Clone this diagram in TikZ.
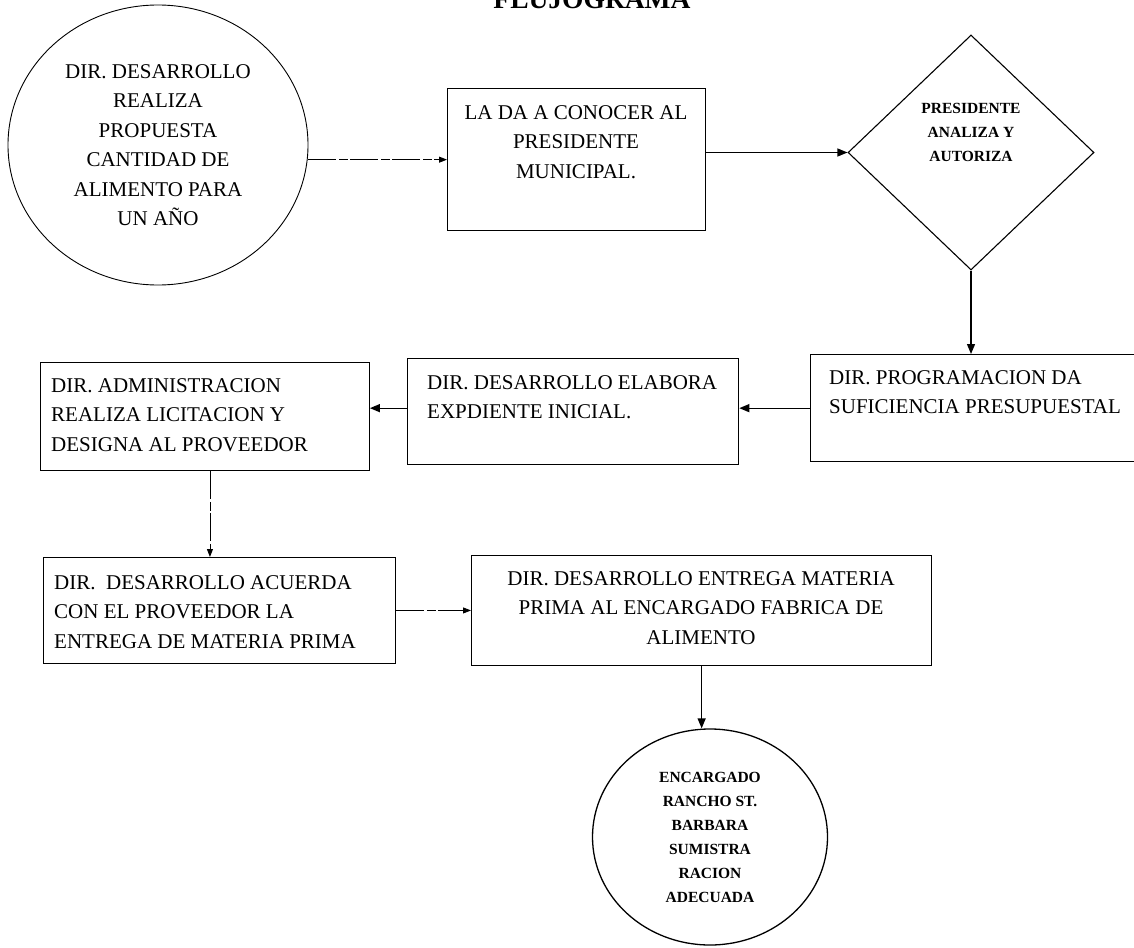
\documentclass[tikz,border=0pt]{standalone}
\usepackage{fontspec}
\setmainfont{Liberation Serif}
\usetikzlibrary{shapes.geometric,arrows.meta,calc}
\begin{document}
\begin{tikzpicture}[x=1pt,y=-1pt,
  every node/.style={inner sep=0pt},
  stepbox/.style={draw, rectangle, line width=1.3pt, anchor=north west},
  thinbox/.style={draw, rectangle, line width=0.9pt, anchor=north west},
  bodytext/.style={font=\fontsize{21}{29.5}\selectfont},
  smalltext/.style={font=\bfseries\fontsize{15.5}{24}\selectfont, align=center},
  arrow/.style={line width=1.3pt, -{Triangle[length=10pt,width=8pt]}},
  faintarrow/.style={line width=0.9pt, dash pattern=on 28pt off 3pt on 9pt off 2pt,
    -{Triangle[length=8pt,width=6pt]}}
]
\useasboundingbox (0,0) rectangle (1134,947);

% title
\node[font=\bfseries\fontsize{27.5}{30}\selectfont, anchor=base] (title) at (592,9) {FLUJOGRAMA};

% start: proposal
\node[draw, ellipse, line width=0.9pt, minimum width=300pt, minimum height=280pt,
  bodytext, align=center] (c1) at (158,145)
  {DIR. DESARROLLO\\REALIZA\\PROPUESTA\\CANTIDAD DE\\ALIMENTO PARA\\UN AÑO};

% first row
\node[stepbox, minimum width=258pt, minimum height=142pt] (b1) at (447,88) {};
\node[bodytext, align=center, anchor=north] (b1t) at (576,105)
  {LA DA A CONOCER AL\\PRESIDENTE\\MUNICIPAL.};

\node[draw, diamond, line width=1.1pt, minimum width=246pt, minimum height=235pt] (d) at (971,152.5) {};
\node[smalltext, anchor=north] (dt) at (971,103) {PRESIDENTE\\ANALIZA Y\\AUTORIZA};

% second row
\node[stepbox, minimum width=340pt, minimum height=107pt] (pr) at (810,354) {};
\node[bodytext, align=left, anchor=north west] (prt) at (829,370)
  {DIR. PROGRAMACION DA\\SUFICIENCIA PRESUPUESTAL};

\node[stepbox, minimum width=331pt, minimum height=106pt] (el) at (407,358) {};
\node[bodytext, align=left, anchor=north west] (elt) at (427,375)
  {DIR. DESARROLLO ELABORA\\EXPDIENTE INICIAL.};

\node[thinbox, minimum width=329pt, minimum height=108pt] (ad) at (40,362) {};
\node[bodytext, align=left, anchor=north west] (adt) at (51,378)
  {DIR. ADMINISTRACION\\REALIZA LICITACION Y\\DESIGNA AL PROVEEDOR};

% third row
\node[thinbox, minimum width=352pt, minimum height=106pt] (ac) at (43,557) {};
\node[bodytext, align=left, anchor=north west] (act) at (54,575)
  {DIR.\ \ DESARROLLO ACUERDA\\CON EL PROVEEDOR LA\\ENTREGA DE MATERIA PRIMA};

\node[stepbox, minimum width=460pt, minimum height=110pt] (en) at (471,555) {};
\node[bodytext, align=center, anchor=north] (ent) at (701,571)
  {DIR. DESARROLLO ENTREGA MATERIA\\PRIMA AL ENCARGADO FABRICA DE\\ALIMENTO};

% end: ration supplied
\node[draw, ellipse, line width=1.3pt, minimum width=235pt, minimum height=216pt,
  smalltext] (c2) at (710,837)
  {ENCARGADO\\RANCHO ST.\\BARBARA\\SUMISTRA\\RACION\\ADECUADA};

% connectors
\draw[faintarrow] (c1.east |- b1.west) -- (b1.west);
\draw[arrow] (b1.east |- d.west) -- (d.west);
\draw[arrow] (d.south) -- (d.south |- pr.north);
\draw[arrow] (pr.west) -- (el.east |- pr.west);
\draw[arrow] (el.west |- pr.west) -- (ad.east |- pr.west);
\draw[faintarrow] ([xshift=5pt]ad.south) -- ([xshift=5pt]ad.south |- ac.north);
\draw[faintarrow] (ac.east) -- (en.west |- ac.east);
\draw[arrow] (en.south) -- (en.south |- c2.north);
\end{tikzpicture}
\end{document}
